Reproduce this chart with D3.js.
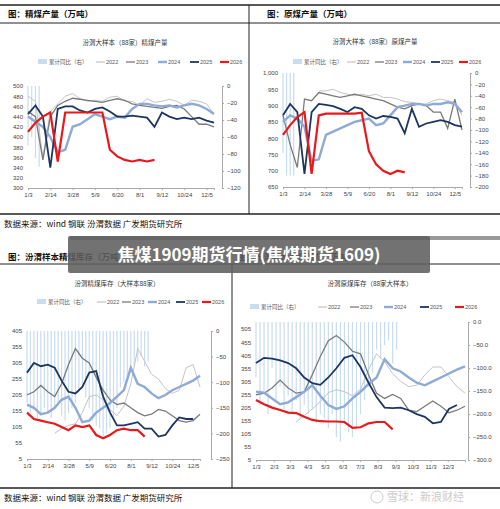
<!DOCTYPE html>
<html><head><meta charset="utf-8">
<script src="https://cdn.jsdelivr.net/npm/d3@7.9.0/dist/d3.min.js"></script>
<style>body{margin:0;background:#fff}svg{display:block;font-family:"Noto Sans CJK SC","Noto Sans",sans-serif}</style>
</head><body><svg id="c" width="500" height="509"></svg>
<script>
// values every 2 weeks starting 1/3 (week 0)
const years = ['2022', '2023', '2024', '2025', '2026'];

// 精煤产量 (left 万吨, bars right %)
const p1_2022 = [480,470,360,450,465,480,485,475,470,472,470,478,480,470,470,462,475,468,470,474,470,462,472,470,465,445];
const p1_2023 = [450,440,355,440,462,470,476,474,472,470,468,472,475,472,465,462,460,458,456,460,462,455,440,425,425,420];
const p1_2024 = [440,430,420,400,370,375,420,425,435,445,440,435,440,438,455,465,465,462,460,462,458,462,465,462,455,445];
const p1_2025 = [445,462,440,340,455,460,460,452,448,455,458,450,440,440,442,440,438,420,448,440,435,438,435,438,432,428];
const p1_2026 = [410,428,440,448,352,448,448,448,448,448,448,375,362,355,352,355,352,355];
const p1_bars = [-70,-60,-85,-95];

// 原煤产量
const p2_2022 = [null,null,null,null,null,945,945,950,940,935,930,935,930,935,925,925,920,912,910,905,905,915,920,915,910,870];
const p2_2023 = [870,780,710,920,915,940,935,930,925,930,935,930,925,920,915,905,895,890,900,905,900,880,880,830,920,825];
const p2_2024 = [850,870,860,835,730,735,810,820,830,840,850,855,860,840,845,870,895,900,905,905,900,905,905,910,905,880];
const p2_2025 = [870,905,880,690,880,905,902,898,890,880,895,890,870,860,868,865,860,815,890,835,845,850,855,850,840,835];
const p2_2026 = [810,840,865,880,690,870,875,875,875,875,875,878,760,720,700,690,700,695];
const p2_bars = [-140,-180,-180,-180];

// 精煤库存
const p3_2022 = [null,null,null,null,85,100,110,115,150,200,205,190,160,140,170,240,350,310,270,255,225,210,220,290,300,230];
const p3_2023 = [205,215,235,215,200,240,300,350,320,305,260,220,190,175,180,165,150,140,145,160,155,140,125,120,125,145];
const p3_2024 = [175,165,145,150,165,190,200,165,120,125,150,165,180,200,220,290,240,230,210,195,205,220,230,240,250,265];
const p3_2025 = [275,305,295,300,290,250,215,210,230,275,280,200,150,110,110,115,120,100,100,75,80,110,135,130,130];
const p3_2026 = [150,130,125,120,115,105,95,110,105,110,80,70,80,95,100,95,95,75];
const p3_bars = [-140,-160,-150,-170,-165,-150,-160,-170,-150,-145,-165,-175,-160,-150,-140,-120,-110,-130,-150,-175,-185,-190,-205,-200,-190,-170,-150,-110,-100,-90,-80,-70,-60,-50,-70,-60];

// 原煤库存
const p4_2022 = [null,null,null,null,null,150,175,200,228,262,273,266,250,275,350,410,380,335,305,285,290,330,360,360,323,285,260];
const p4_2023 = [254,260,280,310,280,260,265,330,400,460,480,455,420,410,330,260,240,255,240,195,190,210,230,210,185,195,210];
const p4_2024 = [266,262,240,218,225,245,265,290,250,215,200,210,240,265,295,320,390,355,343,320,300,290,305,320,335,350,362];
const p4_2025 = [375,395,392,385,375,355,320,298,292,320,355,395,405,360,300,245,205,203,205,195,180,170,145,150,200,215];
const p4_2026 = [234,218,205,196,186,184,170,158,153,152,152,150,128,130,145,150,150,122];
const p4_bars = [-120,-180,-150,-200,-100,-170,-140,-190,-160,-200,-170,-210,-180,-200,-190,-220,-200,-210,-230,-200,-250,-260,-220,-240,-250,-230,-200,-170,-140,-110,-60,-80,-50,-40,-90,-60];

const weekTicks = [0,6,12,18,24,30,36,42,48];
const weekLabels = ['1/3','2/14','3/28','5/9','6/20','8/1','9/12','10/24','12/5'];
const monthTicks = [0,31,59,90,120,151,181,212,243,273,304,334].map(d => d / 7);
const monthLabels = ['1/3','2/3','3/3','4/3','5/3','6/3','7/3','8/3','9/3','10/3','11/3','12/3'];

const colors = {'2022':'#c4c4c4','2023':'#7a7a7a','2024':'#8eaad6','2025':'#1d3560','2026':'#e8191b'};
const widths = {'2022':1,'2023':1.3,'2024':2.4,'2025':1.8,'2026':2.2};
const barColor = '#c9dcf0';

const svg = d3.select('#c');

function panel(cfg) {
  const g = svg.append('g');
  const x = d3.scaleLinear().domain([0, cfg.weekEnd]).range([cfg.x0, cfg.x1]);
  const yL = d3.scaleLinear().domain(cfg.left).range([cfg.yB, cfg.yT]);
  const yR = d3.scaleLinear().domain(cfg.right).range([cfg.yBR ?? cfg.yB, cfg.yTR ?? cfg.yT]);

  g.append('text').attr('x', cfg.tx).attr('y', cfg.ty).attr('text-anchor', 'middle')
    .attr('font-size', 6.5).attr('fill', '#333').text(cfg.title);

  // bars (cumulative yoy, right axis)
  g.selectAll('.bar').data(cfg.bars).join('rect')
    .attr('x', (d, i) => x(i) - 0.6).attr('width', 1.2)
    .attr('y', yR(0)).attr('height', d => yR(d) - yR(0))
    .attr('fill', barColor);

  const line = d3.line().defined(d => d != null).x((d, i) => x(i * 2)).y(d => yL(d));
  years.forEach((yr, k) => {
    g.append('path').datum(cfg.series[k]).attr('fill', 'none')
      .attr('stroke', colors[yr]).attr('stroke-width', widths[yr]).attr('d', line);
  });

  // axes
  const ax = g.append('g').attr('transform', `translate(0,${cfg.yB})`)
    .call(d3.axisBottom(x).tickValues(cfg.xt).tickFormat((d, i) => cfg.xl[i]).tickSize(2));
  const al = g.append('g').attr('transform', `translate(${cfg.x0 - 2},0)`)
    .call(d3.axisLeft(yL).tickValues(d3.range(cfg.left[0], cfg.left[1] + 0.1, cfg.lstep)).tickSize(0));
  al.select('.domain').remove();
  const ar = g.append('g').attr('transform', `translate(${cfg.ra},0)`)
    .call(d3.axisRight(yR).tickValues(d3.range(cfg.right[0], cfg.right[1] + 0.1, cfg.rstep))
      .tickFormat(cfg.rfmt || d3.format('d')).tickSize(2));
  [ax, al, ar].forEach(a => {
    a.selectAll('text').attr('font-size', 6).attr('fill', '#444').attr('font-family', 'Liberation Sans, sans-serif');
    a.selectAll('line,.domain').attr('stroke', '#aaa');
  });

  // legend
  const lg = g.append('g').attr('font-size', 5.5).attr('fill', '#555');
  lg.append('rect').attr('x', cfg.lx[0]).attr('y', cfg.ly - 3).attr('width', 9).attr('height', 5).attr('fill', barColor);
  lg.append('text').attr('x', cfg.lx[0] + 11).attr('y', cfg.ly + 2).text('累计同比（右）');
  years.forEach((yr, k) => {
    const lx = cfg.lx[k + 1];
    lg.append('line').attr('x1', lx).attr('x2', lx + 9).attr('y1', cfg.ly).attr('y2', cfg.ly)
      .attr('stroke', colors[yr]).attr('stroke-width', Math.max(1.2, widths[yr]));
    lg.append('text').attr('x', lx + 10).attr('y', cfg.ly + 2).attr('font-family', 'Liberation Sans').text(yr);
  });
}

panel({title:'汾渭大样本（88家）精煤产量', tx:125, ty:45, x0:28, x1:214, weekEnd:50, xt:weekTicks, xl:weekLabels,
  yT:86, yB:188, left:[300,500], lstep:20, right:[-120,0], rstep:20, ra:222,
  series:[p1_2022,p1_2023,p1_2024,p1_2025,p1_2026], bars:p1_bars, ly:62, lx:[38,96,126,158,190,220]});
panel({title:'汾渭大样本（88家）原煤产量', tx:375, ty:44, x0:283, x1:462, weekEnd:50, xt:weekTicks, xl:weekLabels,
  yT:73, yB:187, left:[650,1000], lstep:50, right:[-200,0], rstep:20, ra:470,
  series:[p2_2022,p2_2023,p2_2024,p2_2025,p2_2026], bars:p2_bars, ly:62, lx:[293,347,375,403,431,459]});
panel({title:'汾渭精煤库存（大样本88家）', tx:117, ty:286, x0:27, x1:200, weekEnd:50, xt:weekTicks, xl:weekLabels,
  yT:331, yB:459, left:[5,405], lstep:50, right:[-250,0], rstep:50, ra:211,
  series:[p3_2022,p3_2023,p3_2024,p3_2025,p3_2026], bars:p3_bars, ly:302, lx:[37,97,122,148,176,202]});
panel({title:'汾渭原煤库存（88家大样本）', tx:370, ty:286, x0:256, x1:465, weekEnd:52, xt:monthTicks, xl:monthLabels,
  yT:329, yB:460, yTR:322, yBR:460, left:[5,505], lstep:50, right:[-300,0], rstep:50, ra:468,
  rfmt:d3.format('.1f'),
  series:[p4_2022,p4_2023,p4_2024,p4_2025,p4_2026], bars:p4_bars, ly:307, lx:[250,318,350,384,420,455]});

// frame lines and captions
const fr = svg.append('g').attr('stroke', '#222');
fr.append('line').attr('x1', 0).attr('x2', 500).attr('y1', 5).attr('y2', 5).attr('stroke-width', 1.5);
fr.append('line').attr('x1', 0).attr('x2', 500).attr('y1', 23).attr('y2', 23);
fr.append('line').attr('x1', 249).attr('x2', 249).attr('y1', 5).attr('y2', 214);
fr.append('line').attr('x1', 0).attr('x2', 500).attr('y1', 214).attr('y2', 214).attr('stroke-width', 1.5);
fr.append('line').attr('x1', 0).attr('x2', 500).attr('y1', 264).attr('y2', 264);
fr.append('line').attr('x1', 232).attr('x2', 232).attr('y1', 264).attr('y2', 488);
fr.append('line').attr('x1', 0).attr('x2', 500).attr('y1', 488).attr('y2', 488).attr('stroke-width', 1.5);

const cap = svg.append('g').attr('font-size', 8.5).attr('font-weight', 'bold').attr('fill', '#111');
cap.append('text').attr('x', 8).attr('y', 17).text('图：精煤产量（万吨）');
cap.append('text').attr('x', 267).attr('y', 17).text('图：原煤产量（万吨）');
cap.append('text').attr('x', 8).attr('y', 260).text('图：汾渭样本精煤库存（万吨）');
cap.append('text').attr('x', 238).attr('y', 260).text('图：汾渭样本原煤库存（万吨）');
svg.append('text').attr('x', 4).attr('y', 227).attr('font-size', 8.5).attr('fill', '#111').text('数据来源：wind 钢联 汾渭数据 广发期货研究所');
svg.append('text').attr('x', 4).attr('y', 501).attr('font-size', 8.5).attr('fill', '#111').text('数据来源：wind 钢联 汾渭数据  广发期货研究所');

// banner
svg.append('rect').attr('x', 70).attr('y', 236).attr('width', 430).attr('height', 4).attr('fill', '#999');
svg.append('rect').attr('x', 68).attr('y', 236).attr('width', 362).attr('height', 37).attr('rx', 2).attr('fill', 'rgba(95,95,95,0.88)');
svg.append('text').attr('x', 249).attr('y', 261).attr('text-anchor', 'middle').attr('font-size', 17)
  .attr('font-weight', 'bold').attr('fill', '#fff').text('焦煤1909期货行情(焦煤期货1609)');

// watermark
svg.append('circle').attr('cx', 377).attr('cy', 497).attr('r', 6).attr('fill', 'none').attr('stroke', '#ccc');
svg.append('text').attr('x', 387).attr('y', 501).attr('font-size', 11).attr('fill', '#ccc').text('雪球：新浪财经');
</script></body></html>
